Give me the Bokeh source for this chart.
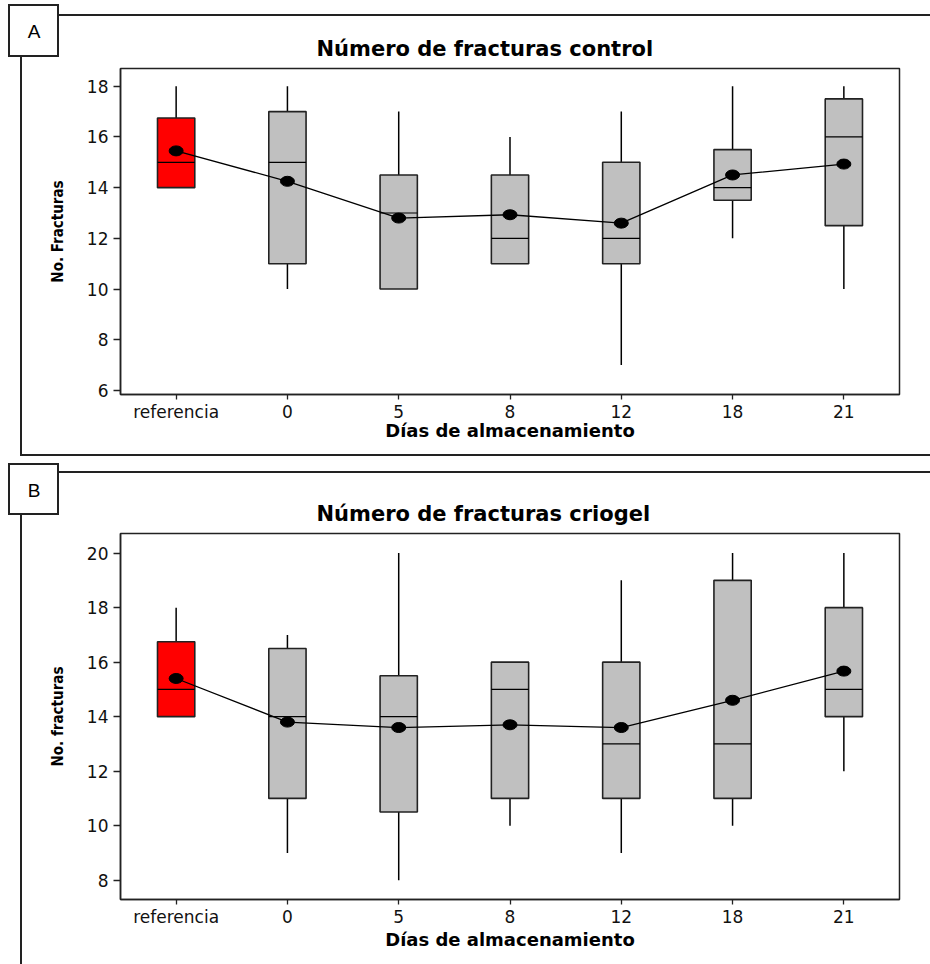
from bokeh.plotting import figure
from bokeh.layouts import column
from bokeh.models import Label, FixedTicker, Range1d, ColumnDataSource
from bokeh.embed import file_html
from bokeh.resources import INLINE

categories = ["referencia", "0", "5", "8", "12", "18", "21"]
box_colors = ["#FF0000", "#C0C0C0", "#C0C0C0", "#C0C0C0", "#C0C0C0", "#C0C0C0", "#C0C0C0"]

# Panel A: control
a_min = [14, 10, 10, 11, 7, 12, 10]
a_q1 = [14, 11, 10, 11, 11, 13.5, 12.5]
a_med = [15, 15, 13, 12, 12, 14, 16]
a_q3 = [16.75, 17, 14.5, 14.5, 15, 15.5, 17.5]
a_max = [18, 18, 17, 16, 17, 18, 18]
a_mean = [15.45, 14.25, 12.8, 12.93, 12.6, 14.5, 14.93]
a_yticks = [6, 8, 10, 12, 14, 16, 18]

# Panel B: criogel
b_min = [14, 9, 8, 10, 9, 10, 12]
b_q1 = [14, 11, 10.5, 11, 11, 11, 14]
b_med = [15, 14, 14, 15, 13, 13, 15]
b_q3 = [16.75, 16.5, 15.5, 16, 16, 19, 18]
b_max = [18, 17, 20, 16, 19, 20, 20]
b_mean = [15.4, 13.8, 13.6, 13.7, 13.6, 14.6, 15.67]
b_yticks = [8, 10, 12, 14, 16, 18, 20]

BOX_W = 0.335
FL = 120  # frame left (px)


def deco_styles(height, box_top, box_bot, line_top, line_bot):
    # panel frame lines and letter box, drawn as CSS background strokes (canvas px)
    segs = [
        (59, line_top - 1, 871, 2),                 # top line
        (20, box_bot, 2, line_bot - box_bot + 1),   # left line
        (8, box_top - 1, 51, 2),                    # letter box top
        (8, box_bot - 1, 51, 2),                    # letter box bottom
        (8, box_top - 1, 2, box_bot - box_top + 2),  # letter box left
        (57, box_top - 1, 2, box_bot - box_top + 2),  # letter box right
    ]
    if line_bot < height:
        segs.append((20, line_bot - 1, 910, 2))     # bottom line
    return {
        "background-color": "white",
        "background-image": ", ".join(["linear-gradient(#222222, #222222)"] * len(segs)),
        "background-size": ", ".join(f"{w}px {h}px" for (_, _, w, h) in segs),
        "background-position": ", ".join(f"{x}px {y}px" for (x, y, _, _) in segs),
        "background-repeat": "no-repeat",
    }


def make_panel(title, ylabel, mins, q1, med, q3, maxs, means, yr, yticks,
               height, top, bottom, letter, box_top, box_bot, line_top, line_bot, xlab_standoff):
    p = figure(width=930, height=height, x_range=Range1d(0.5, 7.5), y_range=Range1d(*yr),
               output_backend="svg", toolbar_location=None,
               min_border_left=FL, min_border_right=31,
               min_border_top=top, min_border_bottom=bottom,
               styles=deco_styles(height, box_top, box_bot, line_top, line_bot))
    p.background_fill_color = "white"
    p.border_fill_color = None
    p.outline_line_color = "#222222"
    p.outline_line_width = 1.5
    p.grid.visible = False

    xs = list(range(1, len(categories) + 1))
    src = ColumnDataSource(dict(
        x=xs, mn=mins, q1=q1, med=med, q3=q3, mx=maxs, mean=means, color=box_colors,
        x0=[x - BOX_W / 2 for x in xs], x1=[x + BOX_W / 2 for x in xs],
    ))
    p.segment(x0="x", y0="q3", x1="x", y1="mx", source=src, line_color="black", line_width=1.5)
    p.segment(x0="x", y0="mn", x1="x", y1="q1", source=src, line_color="black", line_width=1.5)
    p.vbar(x="x", width=BOX_W, bottom="q1", top="q3", source=src,
           fill_color="color", line_color="#222222", line_width=1.6)
    p.segment(x0="x0", y0="med", x1="x1", y1="med", source=src, line_color="black", line_width=1.2)
    p.line(x="x", y="mean", source=src, line_color="black", line_width=1.3)
    p.ellipse(x="x", y="mean", width=14, height=10, width_units="screen", height_units="screen",
              source=src, fill_color="black", line_color="black")

    # title
    p.title.text = title
    p.title.align = "left"
    p.title.offset = 196
    p.title.text_font = "DejaVu Sans"
    p.title.text_font_style = "bold"
    p.title.text_font_size = "21px"
    p.title.text_color = "black"
    p.title.standoff = 16

    # axes
    p.xaxis.ticker = FixedTicker(ticks=xs)
    p.xaxis.major_label_overrides = {x: c for x, c in zip(xs, categories)}
    p.yaxis.ticker = FixedTicker(ticks=yticks)
    for ax in (p.xaxis[0], p.yaxis[0]):
        ax.minor_tick_line_color = None
        ax.major_tick_in = 0
        ax.major_tick_line_color = "#222222"
        ax.major_tick_line_width = 1.3
        ax.axis_line_color = "#222222"
        ax.axis_line_width = 1.5
        ax.major_label_text_font = "DejaVu Sans"
        ax.major_label_text_font_size = "17px"
        ax.major_label_text_color = "#111111"
    p.xaxis.major_tick_out = 5
    p.xaxis.major_label_standoff = 2
    p.yaxis.major_tick_out = 7
    p.yaxis.major_label_standoff = 5
    p.xaxis.axis_label = "Días de almacenamiento"
    p.xaxis.axis_label_text_font = "DejaVu Sans"
    p.xaxis.axis_label_text_font_style = "bold"
    p.xaxis.axis_label_text_font_size = "18px"
    p.xaxis.axis_label_text_color = "black"
    p.xaxis.axis_label_standoff = xlab_standoff
    p.yaxis.axis_label = ylabel
    p.yaxis.axis_label_text_font = "DejaVu Sans Condensed"
    p.yaxis.axis_label_text_font_style = "bold"
    p.yaxis.axis_label_text_font_size = "15px"
    p.yaxis.axis_label_text_color = "black"
    p.yaxis.axis_label_standoff = 17

    # panel letter, in canvas coordinates, placed in a side panel so it is not clipped
    p.add_layout(Label(x=33.5, y=(box_top + box_bot) / 2 + 0.5, x_units="canvas", y_units="canvas",
                       text=letter, text_align="center", text_baseline="middle",
                       text_font="Liberation Sans", text_font_size="19px", text_color="black"),
                 "left")
    return p


pA = make_panel("Número de fracturas control", "No. Fracturas",
                a_min, a_q1, a_med, a_q3, a_max, a_mean, (5.84, 18.70), a_yticks,
                460, 68, 66, "A", 5, 56, 15, 455, -5)
pB = make_panel("Número de fracturas criogel", "No. fracturas",
                b_min, b_q1, b_med, b_q3, b_max, b_mean, (7.29, 20.72), b_yticks,
                504, 73, 65, "B", 4.3, 54, 12.3, 600, -1)

layout = column(pA, pB, spacing=0)
open("out.html", "w").write(file_html(layout, INLINE))
